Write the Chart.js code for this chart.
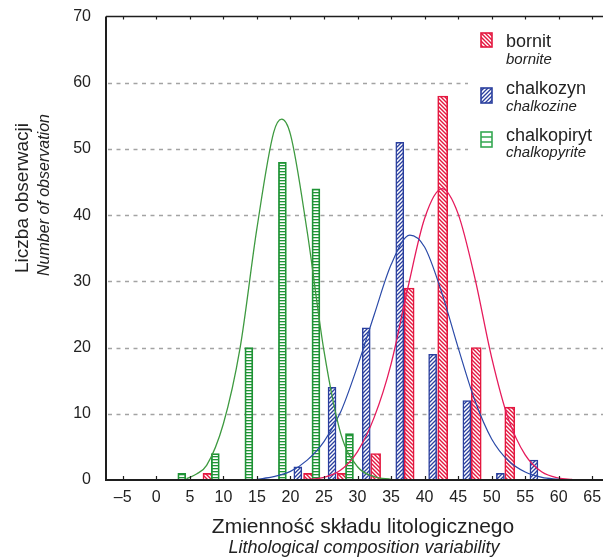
<!DOCTYPE html>
<html>
<head>
<meta charset="utf-8">
<script src="https://cdn.jsdelivr.net/npm/chart.js@4.4.0/dist/chart.umd.min.js"></script>
<style>
  html, body { margin: 0; padding: 0; background: #fff; overflow: hidden; }
  #wrap { width: 603px; height: 558px; }
</style>
</head>
<body>
<div id="wrap"><canvas id="chart" width="603" height="558"></canvas></div>
<script>
// histogram bars (bar position on the x axis, count)
const greenX = [3.8, 8.8, 13.8, 18.8, 23.8, 28.8]
const greenY = [1, 4, 20, 48, 44, 7]
const blueX = [21.1, 26.2, 31.3, 36.3, 41.2, 46.3, 51.3, 56.3]
const blueY = [2, 14, 23, 51, 19, 12, 1, 3]
const redX = [7.7, 22.7, 27.7, 32.7, 37.7, 42.7, 47.7, 52.7]
const redY = [1, 1, 1, 4, 29, 58, 20, 11]

// fitted curves
const greenCurveX = [4.5, 6, 7.5, 10, 12.5, 15, 17.5, 18.7, 20, 22.5, 25, 27.5, 30, 32.5, 35]
const greenCurveY = [0.2, 0.9, 2.2, 8.5, 20, 38, 52.5, 54.5, 52.2, 37.5, 19.5, 7, 2, 0.5, 0.1]
const blueCurveX = [15, 17.5, 20, 22.5, 25, 27.5, 30, 32.5, 35, 37.8, 40, 42.5, 45, 47.5, 50, 52.5, 55, 57.5, 60]
const blueCurveY = [0.1, 0.5, 1.3, 3, 5.8, 10.3, 17.2, 25, 32.5, 37, 35.2, 28.5, 20, 12, 6.2, 2.9, 1.2, 0.4, 0.1]
const redCurveX = [20, 22.5, 25, 27.5, 30, 32.5, 35, 37.5, 40, 42.6, 45, 47.5, 50, 52.5, 55, 57.5, 60, 62]
const redCurveY = [0, 0.1, 0.4, 1.5, 4.3, 9.5, 17.5, 29, 39.5, 44, 40.2, 30.5, 18.5, 9.2, 3.8, 1.2, 0.3, 0.1]

const xTicks = [-5, 0, 5, 10, 15, 20, 25, 30, 35, 40, 45, 50, 55, 60, 65]
const yTicks = [0, 10, 20, 30, 40, 50, 60, 70]

const FONT = '"Liberation Sans", Arial, sans-serif'
const RED = '#e4173f'
const BLUE = '#2a3f9e'
const GREEN = '#1f9436'

const canvas = document.getElementById('chart')
const mainCtx = canvas.getContext('2d')

// small tiles used as bar fills
function makePattern(kind, color, lw) {
    const s = kind === 'h' ? 3 : 4
    const c = document.createElement('canvas')
    c.width = s
    c.height = s
    const g = c.getContext('2d')
    g.fillStyle = '#fff'
    g.fillRect(0, 0, s, s)
    g.fillStyle = color
    g.strokeStyle = color
    g.lineWidth = lw
    if (kind === 'h') {
        g.fillRect(0, 0, s, lw)
    } else {
        g.beginPath()
        if (kind === '\\') {
            g.moveTo(-1, -1); g.lineTo(s + 1, s + 1)
            g.moveTo(-1, s - 1); g.lineTo(1, s + 1)
            g.moveTo(s - 1, -1); g.lineTo(s + 1, 1)
        } else {
            g.moveTo(-1, s + 1); g.lineTo(s + 1, -1)
            g.moveTo(-1, 1); g.lineTo(1, -1)
            g.moveTo(s - 1, s + 1); g.lineTo(s + 1, s - 1)
        }
        g.stroke()
    }
    return mainCtx.createPattern(c, 'repeat')
}

const redFill = makePattern('\\', RED, 1.4)
const blueFill = makePattern('/', BLUE, 1.3)
const greenFill = makePattern('h', GREEN, 1.3)

const pts = (xs, ys) => xs.map((x, i) => ({ x: x, y: ys[i] }))

const framePlugin = {
    id: 'frame',
    beforeDatasetsDraw(chart) {
        const { ctx, chartArea: a, scales: { y } } = chart
        ctx.save()
        // dashed grid
        ctx.strokeStyle = '#a3a3a3'
        ctx.lineWidth = 1.3
        ctx.setLineDash([4, 4.5])
        yTicks.forEach(v => {
            if (v === 0 || v === 70) return
            const py = Math.round(y.getPixelForValue(v)) + 0.5
            ctx.beginPath()
            ctx.moveTo(a.left + 2, py)
            ctx.lineTo(a.right, py)
            ctx.stroke()
        })
        ctx.setLineDash([])
        // legend box covers the grid
        ctx.fillStyle = '#fff'
        ctx.fillRect(468, 20, 135, 148)
        ctx.restore()
    },
    afterDatasetsDraw(chart) {
        const { ctx, chartArea: a, scales: { x } } = chart
        ctx.save()
        ctx.strokeStyle = '#1e1e1e'
        // frame: left, bottom, top
        ctx.lineWidth = 2
        ctx.beginPath()
        ctx.moveTo(a.left, a.top)
        ctx.lineTo(a.left, a.bottom)
        ctx.lineTo(a.right, a.bottom)
        ctx.stroke()
        ctx.lineWidth = 1.5
        ctx.beginPath()
        ctx.moveTo(a.left, a.top)
        ctx.lineTo(a.right, a.top)
        ctx.stroke()
        // inward tick marks
        ctx.lineWidth = 1.2
        xTicks.forEach(v => {
            const px = Math.round(x.getPixelForValue(v)) + 0.5
            ctx.beginPath()
            ctx.moveTo(px, a.bottom)
            ctx.lineTo(px, a.bottom - 4)
            ctx.moveTo(px, a.top)
            ctx.lineTo(px, a.top + 3)
            ctx.stroke()
        })

        // legend
        const items = [
            { fill: redFill, color: RED, y: 33, h: 14, name: 'bornit', sub: 'bornite', b1: 47, b2: 64 },
            { fill: blueFill, color: BLUE, y: 88, h: 15, name: 'chalkozyn', sub: 'chalkozine', b1: 94, b2: 111 },
            { fill: null, color: '#35a852', y: 132, h: 15, name: 'chalkopiryt', sub: 'chalkopyrite', b1: 141, b2: 157 }
        ]
        items.forEach(it => {
            ctx.lineWidth = 1.6
            ctx.strokeStyle = it.color
            if (it.fill) {
                ctx.fillStyle = it.fill
                ctx.fillRect(481, it.y, 11, it.h)
            }
            ctx.strokeRect(481, it.y, 11, it.h)
            if (!it.fill) {
                ctx.beginPath()
                ctx.moveTo(481, it.y + it.h / 3)
                ctx.lineTo(492, it.y + it.h / 3)
                ctx.moveTo(481, it.y + 2 * it.h / 3)
                ctx.lineTo(492, it.y + 2 * it.h / 3)
                ctx.stroke()
            }
            ctx.fillStyle = '#222'
            ctx.textAlign = 'left'
            ctx.textBaseline = 'alphabetic'
            ctx.font = '18px ' + FONT
            ctx.fillText(it.name, 506, it.b1)
            ctx.font = 'italic 15px ' + FONT
            ctx.fillText(it.sub, 506, it.b2)
        })

        // axis titles
        ctx.fillStyle = '#222'
        ctx.textAlign = 'center'
        ctx.font = '21px ' + FONT
        ctx.fillText('Zmienność składu litologicznego', 363, 533)
        ctx.font = 'italic 18px ' + FONT
        ctx.fillText('Lithological composition variability', 364, 553)

        ctx.save()
        ctx.translate(28, 198)
        ctx.rotate(-Math.PI / 2)
        ctx.font = '19px ' + FONT
        ctx.fillText('Liczba obserwacji', 0, 0)
        ctx.restore()
        ctx.save()
        ctx.translate(49, 195)
        ctx.rotate(-Math.PI / 2)
        ctx.font = 'italic 16px ' + FONT
        ctx.fillText('Number of observation', 0, 0)
        ctx.restore()

        ctx.restore()
    }
}

const curve = (xs, ys, color, w) => ({
    type: 'line',
    data: pts(xs, ys),
    borderColor: color,
    borderWidth: w,
    pointRadius: 0,
    fill: false,
    cubicInterpolationMode: 'monotone',
    order: 0
})

const bars = (xs, ys, fill, color, thick, bw) => ({
    type: 'bar',
    data: pts(xs, ys),
    backgroundColor: fill,
    borderColor: color,
    borderWidth: bw,
    barThickness: thick,
    grouped: false,
    order: 1
})

new Chart(canvas, {
    type: 'bar',
    data: {
        datasets: [
            curve(greenCurveX, greenCurveY, '#3e9a40', 1.3),
            curve(blueCurveX, blueCurveY, '#2b4aa8', 1.2),
            curve(redCurveX, redCurveY, '#e61b5c', 1.3),
            bars(greenX, greenY, greenFill, GREEN, 8, 1.8),
            bars(blueX, blueY, blueFill, BLUE, 8, 1.5),
            bars(redX, redY, redFill, RED, 10, 1.6)
        ]
    },
    options: {
        responsive: false,
        animation: false,
        layout: { padding: { top: 16, right: 0, left: 0, bottom: 0 } },
        plugins: { legend: { display: false }, tooltip: { enabled: false } },
        scales: {
            x: {
                type: 'linear',
                min: -7.5,
                max: 66.6,
                offset: false,
                // invisible tick marks keep the labels off the axis
                grid: { display: true, drawOnChartArea: false, drawTicks: true, tickLength: 8, tickColor: 'rgba(0,0,0,0)' },
                border: { display: false },
                afterBuildTicks: s => { s.ticks = xTicks.map(v => ({ value: v })) },
                afterFit: s => { s.height = 78 },
                ticks: {
                    autoSkip: false,
                    maxRotation: 0,
                    padding: 0,
                    color: '#222',
                    font: { family: FONT, size: 16 },
                    callback: v => String(v).replace('-', '\u2013')
                }
            },
            y: {
                min: 0,
                max: 70,
                grid: { display: false },
                border: { display: false },
                afterBuildTicks: s => { s.ticks = yTicks.map(v => ({ value: v })) },
                afterFit: s => { s.width = 106 },
                ticks: {
                    padding: 7,
                    color: '#222',
                    font: { family: FONT, size: 16 }
                }
            }
        }
    },
    plugins: [framePlugin]
})
</script>
</body>
</html>
